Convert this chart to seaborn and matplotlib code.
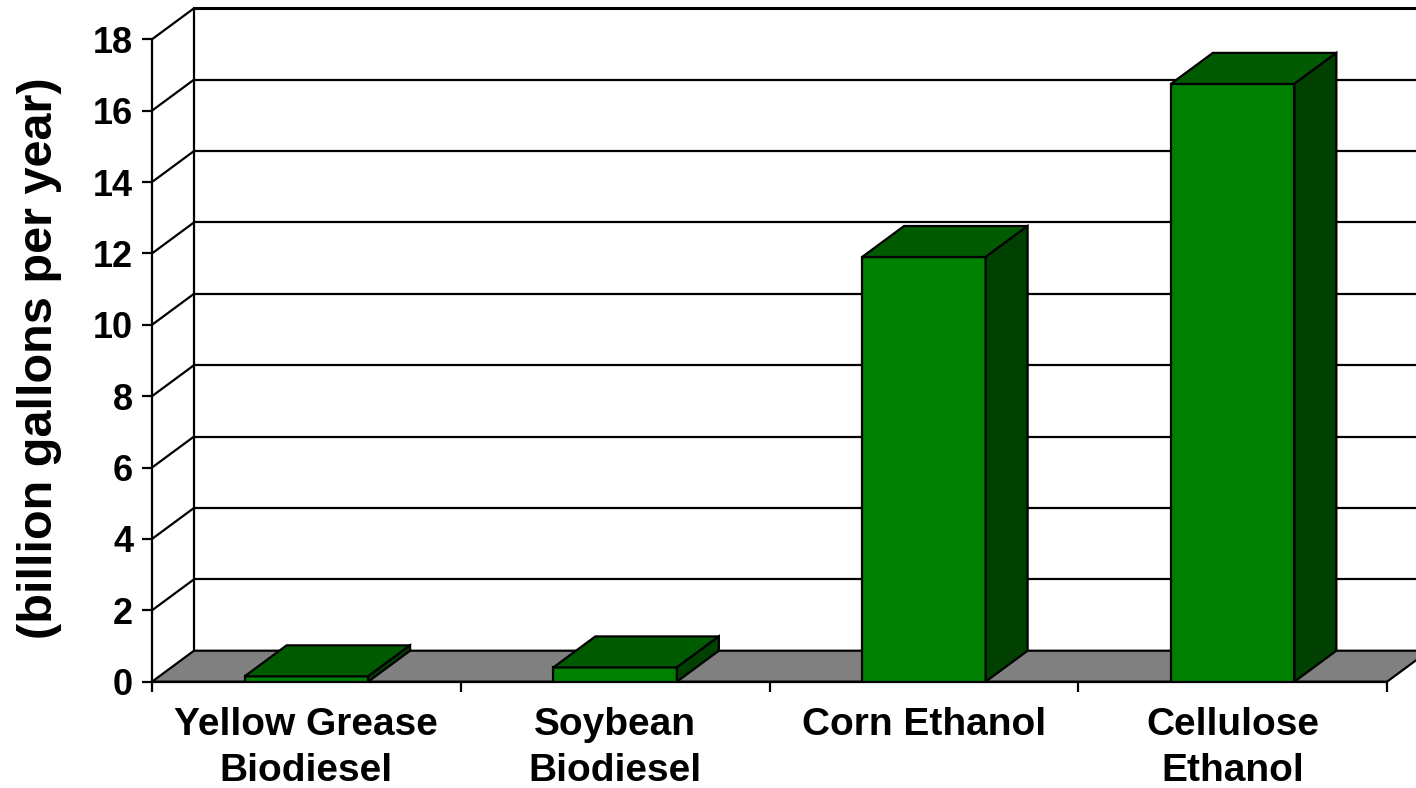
import matplotlib
matplotlib.use("Agg")
from matplotlib import pyplot as plt
import seaborn as sns

# data
categories = ["Yellow Grease\nBiodiesel", "Soybean\nBiodiesel", "Corn Ethanol", "Cellulose\nEthanol"]
values = [0.15, 0.4, 11.9, 16.75]
y_ticks = [0, 2, 4, 6, 8, 10, 12, 14, 16, 18]

sns.set_style("white")
plt.rcParams["font.family"] = ["Liberation Sans", "DejaVu Sans"]
plt.rcParams["font.weight"] = "bold"
plt.rcParams["text.color"] = "black"
plt.rcParams["xtick.color"] = "black"
plt.rcParams["ytick.color"] = "black"
plt.rcParams["axes.labelcolor"] = "black"

fig = plt.figure(figsize=(14.16, 7.88), dpi=100)
W, H = 1416, 788
x0, y0 = 152, 681.7          # pixel position of the front origin
px_cat = 308.75               # pixels per category
px_val = 35.69                # pixels per unit
ax = fig.add_axes([x0 / W, (H - y0) / H, (W - x0) / W, y0 / H])

# depth of the 3d look, in data units
dx = 42 / px_cat
dy = 31 / px_val
half = 0.2
lw = 1.6

# back wall grid lines and side wall diagonals
xl, xr = -0.5, len(categories) - 0.5
for v in y_ticks:
    if v > 0:
        ax.plot([xl + dx, xr + dx], [v + dy, v + dy], color="black", lw=lw if v < 18 else 2.2, zorder=1)
        ax.plot([xl, xl + dx], [v, v + dy], color="black", lw=lw, zorder=1)
ax.plot([xl + dx, xl + dx], [dy, y_ticks[-1] + dy], color="black", lw=lw, zorder=1)

# floor
ax.fill([xl, xr, xr + dx, xl + dx], [0, 0, dy, dy], facecolor="#808080", edgecolor="black", lw=lw, zorder=2)

# front faces of the bars
sns.barplot(x=categories, y=values, width=2 * half, color="#008000", saturation=1,
            edgecolor="black", linewidth=lw, zorder=3, ax=ax)

# top and side faces
for i, v in enumerate(values):
    ax.fill([i - half, i + half, i + half + dx, i - half + dx], [v, v, v + dy, v + dy],
            facecolor="#005a00", edgecolor="black", lw=lw, zorder=3)
    ax.fill([i + half, i + half + dx, i + half + dx, i + half], [0, dy, v + dy, v],
            facecolor="#004000", edgecolor="black", lw=lw, zorder=3)

ax.set_xlim(xl, xl + (W - x0) / px_cat)
ax.set_ylim(0, y0 / px_val)

ax.set_yticks(y_ticks)
ax.set_yticklabels([str(t) for t in y_ticks], fontsize=26, fontweight="bold")
ax.tick_params(axis="y", direction="out", length=7.5, width=lw, pad=6, left=True)

ax.set_xticks(range(len(categories)))
ax.set_xticklabels(categories, fontsize=28, fontweight="bold", linespacing=1.38)
ax.set_xticks([k - 0.5 for k in range(len(categories) + 1)], minor=True)
ax.tick_params(axis="x", which="major", length=0, pad=18)
ax.tick_params(axis="x", which="minor", direction="out", length=7.5, width=lw, bottom=True)

ax.set_xlabel("")
ax.set_ylabel("(billion gallons per year)", fontsize=35, fontweight="bold")
ax.yaxis.set_label_coords(-0.071, 0.475)

for side in ["top", "right"]:
    ax.spines[side].set_visible(False)
ax.spines["left"].set_bounds(0, 18)
ax.spines["bottom"].set_bounds(xl, xr)
for side in ["left", "bottom"]:
    ax.spines[side].set_linewidth(lw)
    ax.spines[side].set_color("black")

fig.savefig("out.png", dpi=100)
